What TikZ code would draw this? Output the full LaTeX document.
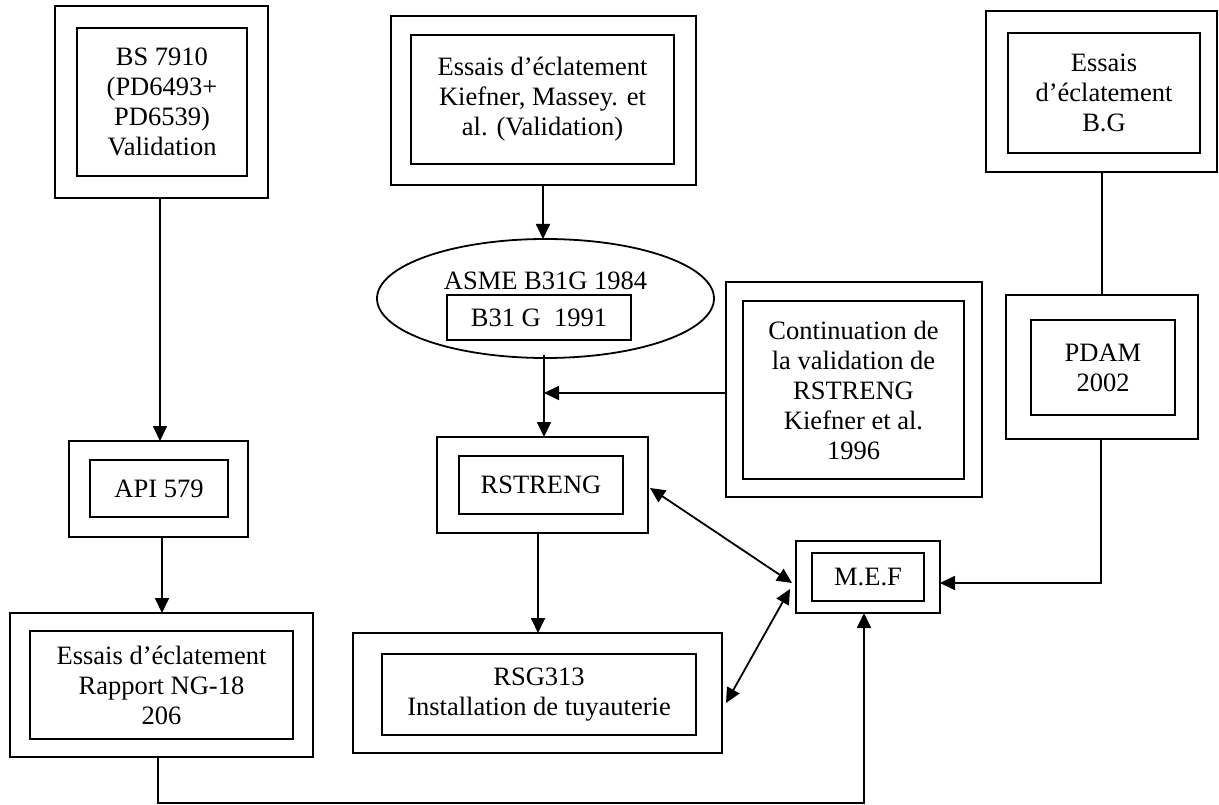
\documentclass[tikz,border=0pt]{standalone}
\usepackage{fontspec}
\setmainfont{Liberation Serif}
\usetikzlibrary{shapes.geometric,arrows.meta,calc}
\begin{document}
\begin{tikzpicture}[x=1pt,y=-1pt,
  every node/.style={inner sep=0pt,outer sep=0pt},
  obox/.style={draw,line width=1.8pt,rectangle},
  ibox/.style={draw,line width=1.8pt,rectangle,align=center,font=\fontsize{26.5}{30}\selectfont},
  conn/.style={line width=1.8pt},
  arr/.style={line width=1.8pt,-{Triangle[length=15pt,width=14pt]}},
  barr/.style={line width=1.8pt,{Triangle[length=15pt,width=14pt]}-{Triangle[length=15pt,width=14pt]}}
]
\useasboundingbox (0,0) rectangle (1219,805);
% boxes
\node[obox,minimum width=213pt,minimum height=192pt] (bso) at (161.5,102) {};
\node[ibox,minimum width=170pt,minimum height=148pt] (bsi) at (162,102) {BS 7910\\(PD6493+\\PD6539)\\Validation};

\node[obox,minimum width=305pt,minimum height=169pt] (kfo) at (543.5,100.5) {};
\node[ibox,minimum width=263pt,minimum height=129pt] (kfi) at (542.5,99.5) {Essais d’éclatement\\Kiefner, Massey. et\\al. (Validation)};

\node[obox,minimum width=231pt,minimum height=161pt] (bgo) at (1101.5,91.5) {};
\node[ibox,minimum width=192pt,minimum height=120pt] (bgi) at (1104,93) {Essais\\d’éclatement\\B.G};

\node[draw,line width=1.8pt,ellipse,minimum width=337pt,minimum height=119pt] (asme) at (545.5,298.5) {};
\node[font=\fontsize{26.5}{30}\selectfont] (asmet) at (545.5,281) {ASME B31G 1984};
\node[ibox,minimum width=184pt,minimum height=45pt] (b31) at (539,317.5) {B31 G\ \ 1991};

\node[obox,minimum width=256pt,minimum height=215pt] (conto) at (854,389.5) {};
\node[ibox,minimum width=221pt,minimum height=178pt] (conti) at (853.5,390) {Continuation de\\la validation de\\RSTRENG\\Kiefner et al.\\1996};

\node[obox,minimum width=192pt,minimum height=144pt] (pdo) at (1102,367) {};
\node[ibox,minimum width=144pt,minimum height=95pt] (pdi) at (1103,367.5) {PDAM\\2002};

\node[obox,minimum width=179pt,minimum height=96pt] (apo) at (158.5,489) {};
\node[ibox,minimum width=138pt,minimum height=57pt] (api) at (159,488.5) {API 579};

\node[obox,minimum width=303pt,minimum height=144pt] (ngo) at (161.5,685) {};
\node[ibox,minimum width=263pt,minimum height=108pt] (ngi) at (161.5,685) {Essais d’éclatement\\Rapport NG-18\\206};

\node[obox,minimum width=211pt,minimum height=96pt] (rso) at (542.5,485) {};
\node[ibox,minimum width=164pt,minimum height=58pt] (rsi) at (541,485) {RSTRENG};

\node[obox,minimum width=369pt,minimum height=120pt] (rgo) at (537.5,693) {};
\node[ibox,minimum width=314pt,minimum height=81pt] (rgi) at (539,694.5) {RSG313\\Installation de tuyauterie};

\node[obox,minimum width=144pt,minimum height=72pt] (mefo) at (868,577) {};
\node[ibox,minimum width=112pt,minimum height=48pt] (mefi) at (868,577) {M.E.F};

% helper coordinates
\coordinate (j1) at (544,393);
\coordinate (c1) at (1101,583);
\coordinate (c2) at (158,803);
\coordinate (c3) at (864,803);
\coordinate (r1) at (650,488);
\coordinate (m1) at (792,583);
\coordinate (g1) at (726,703);
\coordinate (m2) at (790,589);

% connectors
\draw[arr] (bso.south -| 160,0) -- (apo.north -| 160,0);
\draw[arr] (apo.south -| 162,0) -- (ngo.north -| 162,0);
\draw[arr] (kfo.south -| 543,0) -- (asme.north -| 543,0);
\draw[arr] ([yshift=3pt]asme.south -| 544,0) -- (rso.north -| 544,0);
\draw[arr] (conto.west |- j1) -- (j1);
\draw[conn] (bgo.south -| 1102,0) -- (pdo.north -| 1102,0);
\draw[arr] (pdo.south -| c1) -- (c1) -- (mefo.east |- c1);
\draw[arr] (ngo.south -| c2) -- (c2) -- (c3) -- (mefo.south -| c3);
\draw[arr] (rso.south -| 538,0) -- (rgo.north -| 538,0);
\draw[barr] (r1) -- (m1);
\draw[barr] (g1) -- (m2);
\end{tikzpicture}
\end{document}
